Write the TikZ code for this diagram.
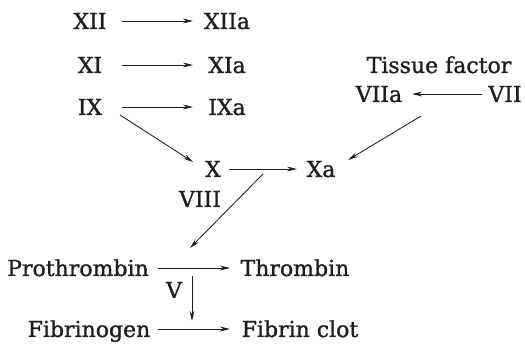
\documentclass[tikz,border=0pt]{standalone}
\usepackage{fontspec}
\setmainfont{DejaVu Serif}
\newfontfamily\factorfont{DejaVu Serif}[FakeBold=1.2]
\usepackage{xcolor}
\usetikzlibrary{arrows.meta,positioning,calc}
\definecolor{ink}{HTML}{1E1E1E}
\tikzset{
  factor/.style={inner sep=3pt,text=ink,
                 font=\factorfont\fontsize{22}{26}\selectfont,
                 text height=16pt,text depth=0pt},
  cascarr/.style={-{Stealth[length=10pt,width=4.8pt]},line width=0.85pt,draw=ink}
}

\begin{document}
\begin{tikzpicture}[x=1pt,y=-1pt]
      \useasboundingbox (0,0) rectangle (525,344);

      % intrinsic pathway
      \node[factor] (xii)  at (90,21)  {XII};
      \node[factor] (xiia) at (227,21) {XIIa};
      \node[factor] (xi)   at (90,65)  {XI};
      \node[factor] (xia)  at (227,65) {XIa};
      \node[factor] (ix)   at (90,107) {IX};
      \node[factor] (ixa)  at (227,107){IXa};
      \draw[cascarr] ([xshift=32pt]xii.center) -- ([xshift=-34pt]xiia.center);
      \draw[cascarr] ([xshift=32pt]xi.center) -- ([xshift=-34pt]xia.center);
      \draw[cascarr] ([xshift=32pt]ix.center) -- ([xshift=-34pt]ixa.center);

      % extrinsic pathway
      \node[factor] (tf)   at (439,65) {Tissue factor};
      \node[factor] (viia) at (379,94) {VIIa};
      \node[factor] (vii)  at (505,94) {VII};
      \draw[cascarr] ([xshift=-23pt]vii.center) -- ([xshift=33pt]viia.center);

      % common pathway
      \node[factor] (x)    at (213,169) {X};
      \node[factor] (xa)   at (321,169) {Xa};
      \node[factor] (viii) at (200,199) {VIII};
      \draw[cascarr] ([shift={(30,8)}]ix.center) -- ([shift={(-20,-7)}]x.center);
      \draw[cascarr] ([xshift=16pt]x.center) -- ([xshift=-24pt]xa.center);
      \draw[cascarr] ([shift={(42,22)}]viia.center) -- ([shift={(27,-9)}]xa.center);

      \node[factor] (pro) at (78,268)  {Prothrombin};
      \node[factor] (thr) at (295,268) {Thrombin};
      \node[factor] (v)   at (174,290) {V};
      \node[factor] (fbg) at (89,329)  {Fibrinogen};
      \node[factor] (fib) at (300,329) {Fibrin clot};
      \coordinate (promid) at (192,268);
      \coordinate (fibmid) at (192,329);
      \draw[cascarr] ([xshift=80pt]pro.center) -- ([xshift=-65pt]thr.center);
      \draw[cascarr] ([xshift=69pt]fbg.center) -- ([xshift=-70pt]fib.center);
      \draw[cascarr] ([shift={(50,5)}]x.center) -- ([shift={(-2,-20)}]promid);
      \draw[cascarr] ([yshift=-8pt]promid) -- ([yshift=8pt]fibmid);
    \end{tikzpicture}
\end{document}
